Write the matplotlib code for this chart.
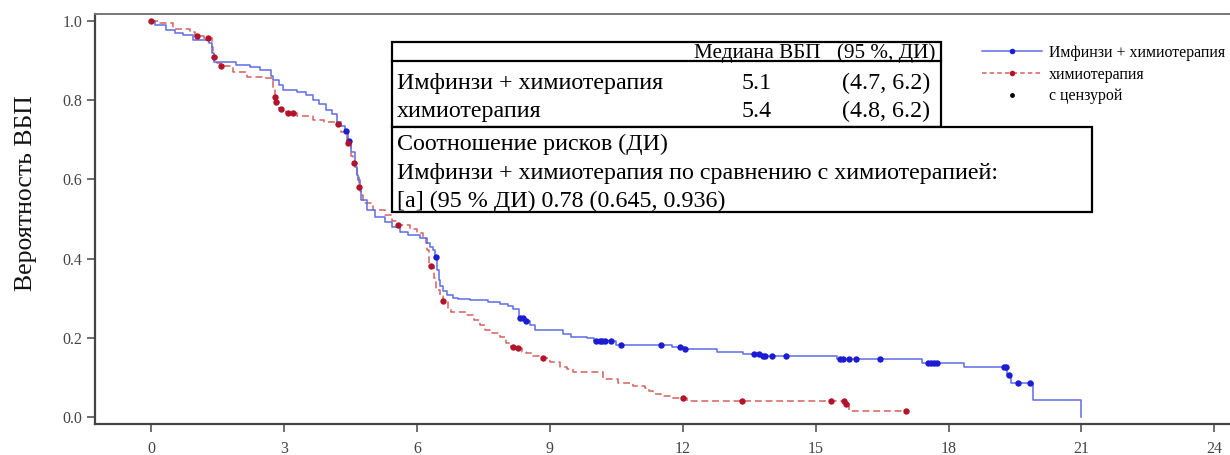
import matplotlib
matplotlib.use("Agg")
import matplotlib.pyplot as plt
from matplotlib.lines import Line2D
from matplotlib.patches import Rectangle
import numpy as np

plt.rcParams['font.family'] = ['Liberation Serif', 'DejaVu Serif']

# ---------------- data ----------------
blue_label = "Имфинзи + химиотерапия"
red_label = "химиотерапия"
cens_label = "с цензурой"

blue_t = [0, 0.1, 0.35, 0.55, 0.73, 0.95, 1.3, 1.37, 1.42, 1.93,
          2.23, 2.45, 2.7, 2.76, 2.9, 2.99, 3.29, 3.51, 3.66, 3.8,
          3.96, 4.08, 4.19, 4.3, 4.38, 4.44, 4.52, 4.6, 4.65, 4.68,
          4.72, 4.75, 4.87, 5.05, 5.28, 5.43, 5.62, 5.8, 6.07, 6.22,
          6.3, 6.37, 6.41, 6.46, 6.49, 6.52, 6.58, 6.67, 6.82, 6.93,
          7.2, 7.61, 7.87, 8.05, 8.17, 8.3, 8.45, 8.55, 8.66, 9.3,
          9.49, 9.83, 10.0, 10.5, 11.77, 12.03, 12.77, 13.36, 13.78, 15.49,
          17.4, 18.35, 19.33, 19.41, 19.9, 20.98]
blue_s = [1.0, 0.99, 0.977, 0.97, 0.965, 0.952, 0.945, 0.92, 0.897, 0.889,
          0.885, 0.876, 0.862, 0.851, 0.838, 0.826, 0.821, 0.813, 0.80, 0.79,
          0.775, 0.765, 0.746, 0.735, 0.723, 0.698, 0.67, 0.632, 0.61, 0.598,
          0.57, 0.548, 0.523, 0.506, 0.493, 0.48, 0.468, 0.46, 0.451, 0.439,
          0.43, 0.422, 0.405, 0.37, 0.345, 0.33, 0.318, 0.308, 0.30, 0.297,
          0.295, 0.291, 0.285, 0.28, 0.272, 0.251, 0.243, 0.232, 0.22, 0.21,
          0.203, 0.199, 0.192, 0.181, 0.176, 0.171, 0.164, 0.159, 0.154, 0.146,
          0.137, 0.125, 0.106, 0.087, 0.043, 0.0]
blue_cens = [4.41, 4.47, 6.43, 8.34, 8.40, 8.47, 10.05, 10.13, 10.19, 10.24,
             10.39, 10.61, 11.5, 11.95, 12.06, 13.6, 13.72, 13.81, 13.86, 14.01,
             14.33, 15.56, 15.61, 15.75, 15.91, 16.46, 17.53, 17.6, 17.67, 17.74,
             19.26, 19.3, 19.36, 19.57, 19.85]

red_t = [0, 0.2, 0.5, 0.88, 1.0, 1.2, 1.37, 1.40, 1.5, 1.57,
         1.86, 2.16, 2.5, 2.76, 2.79, 2.81, 2.9, 3.05, 3.3, 3.66,
         3.9, 4.2, 4.3, 4.42, 4.52, 4.57, 4.65, 4.69, 4.75, 4.79,
         5.01, 5.28, 5.45, 5.55, 5.84, 6.0, 6.14, 6.2, 6.22, 6.28,
         6.38, 6.44, 6.52, 6.58, 6.7, 6.78, 7.12, 7.3, 7.42, 7.55,
         7.65, 7.87, 8.02, 8.12, 8.25, 8.38, 8.47, 8.6, 8.75, 9.0,
         9.23, 9.4, 9.53, 10.2, 10.55, 10.87, 11.14, 11.25, 11.32, 11.5,
         11.73, 12.09, 15.67, 15.75]
red_s = [1.0, 0.994, 0.981, 0.973, 0.962, 0.956, 0.935, 0.91, 0.895, 0.887,
         0.872, 0.859, 0.855, 0.83, 0.809, 0.796, 0.778, 0.767, 0.76, 0.75,
         0.745, 0.739, 0.72, 0.691, 0.66, 0.642, 0.61, 0.58, 0.56, 0.54,
         0.523, 0.51, 0.495, 0.485, 0.476, 0.465, 0.455, 0.44, 0.422, 0.381,
         0.35, 0.32, 0.305, 0.293, 0.275, 0.266, 0.258, 0.245, 0.232, 0.22,
         0.211, 0.203, 0.186, 0.178, 0.173, 0.165, 0.161, 0.155, 0.15, 0.14,
         0.127, 0.12, 0.114, 0.095, 0.085, 0.078, 0.073, 0.065, 0.059, 0.053,
         0.048, 0.041, 0.032, 0.016]
red_cens = [0.0, 1.05, 1.29, 1.42, 1.59, 2.8, 2.83, 2.93, 3.1, 3.2,
            4.23, 4.45, 4.59, 4.7, 5.58, 6.31, 6.6, 8.17, 8.29, 8.84,
            12.0, 13.33, 15.34, 15.64, 15.69, 17.03]

x_ticks = [0, 3, 6, 9, 12, 15, 18, 21, 24]
y_ticks = [0.0, 0.2, 0.4, 0.6, 0.8, 1.0]
y_title = "Вероятность ВБП"

tbl_header = ["Медиана ВБП", "(95 %, ДИ)"]
tbl_rows = [blue_label, red_label]
tbl_median = ["5.1", "5.4"]
tbl_ci = ["(4.7, 6.2)", "(4.8, 6.2)"]
hr_lines = ["Соотношение рисков (ДИ)",
            "Имфинзи + химиотерапия по сравнению с химиотерапией:",
            "[a] (95 % ДИ) 0.78 (0.645, 0.936)"]

# ---------------- styles ----------------
BLUE_LINE = "#5d6ce4"
BLUE_DOT = "#1c1cd2"
RED_LINE = "#d2605e"
RED_DOT = "#b2142c"
W, H = 1230, 455


def step_value(t, times, surv):
    idx = np.searchsorted(np.asarray(times), t, side="right") - 1
    return np.asarray(surv)[idx]


fig = plt.figure(figsize=(W / 100, H / 100), dpi=100)
ax = fig.add_axes([95 / W, 1 - 424 / H, (1229 - 95) / W, (424 - 14) / H])

# curves
ax.step(blue_t, blue_s, where="post", color=BLUE_LINE, lw=1.1, zorder=3)
red_end = max(red_cens)
ax.step(red_t + [red_end], red_s + [red_s[-1]], where="post", color=RED_LINE,
        lw=1.1, ls=(0, (4.5, 2.5)), zorder=2)

ax.plot(blue_cens, [step_value(t, blue_t, blue_s) for t in blue_cens], "o",
        color=BLUE_DOT, ms=4.6, mec="none", zorder=4)
ax.plot(red_cens, [step_value(t, red_t, red_s) for t in red_cens], "o",
        color=RED_DOT, ms=4.6, mec="none", zorder=4)

ax.set_xlim(-1.263, 24.33)
ax.set_ylim(-0.0177, 1.0177)
ax.set_xticks(x_ticks)
ax.set_xticklabels([str(v) for v in x_ticks])
ax.set_yticks(y_ticks)
ax.set_yticklabels([f"{v:.1f}" for v in y_ticks])
ax.tick_params(axis="both", direction="out", length=6, width=1.2,
               colors="#555555", labelsize=11.5, labelcolor="#444444")
ax.tick_params(axis="x", pad=6.5)
ax.tick_params(axis="y", pad=3)
for s in ["left", "bottom"]:
    ax.spines[s].set_color("#444444")
    ax.spines[s].set_linewidth(1.6)
ax.spines["top"].set_color("#777777")
ax.spines["top"].set_linewidth(1.4)
ax.spines["right"].set_visible(False)
ax.set_ylabel(y_title, fontsize=18.5, color="#111111")
ax.yaxis.set_label_coords((37 - 95) / 1134, (424 - 193) / 410)

# legend
handles = [
    Line2D([0], [0], color=BLUE_LINE, lw=1.1, marker="o", ms=4, mfc=BLUE_DOT, mec="none"),
    Line2D([0], [0], color=RED_LINE, lw=1.1, ls=(0, (3, 2)), marker="o", ms=4, mfc=RED_DOT, mec="none"),
    Line2D([0], [0], color="none", lw=0, marker="o", ms=3.5, mfc="black", mec="none"),
]
leg = ax.legend(handles, [blue_label, red_label, cens_label], loc="upper left",
                bbox_to_anchor=(982 / W, 1 - 45 / H), bbox_transform=fig.transFigure,
                frameon=False, fontsize=11.4, handlelength=3.8, handletextpad=0.45,
                labelspacing=0.36, numpoints=1, borderaxespad=0, borderpad=0)

# table boxes
def fx(x):
    return x / W


def fy(y):
    return 1 - y / H


def rect(x0, y0, x1, y1):
    fig.add_artist(Rectangle((fx(x0), fy(y1)), fx(x1) - fx(x0), fy(y0) - fy(y1),
                             transform=fig.transFigure, fill=True, fc="white",
                             ec="black", lw=1.6, zorder=5))


rect(392, 42, 941, 127)
fig.add_artist(Line2D([fx(392), fx(941)], [fy(61), fy(61)], transform=fig.transFigure,
                      color="black", lw=1.6, zorder=6))
rect(392, 127, 1092, 212)

TS = 17.3
fig.text(fx(821), fy(58), tbl_header[0], ha="right", va="baseline", fontsize=15.2, zorder=7)
fig.text(fx(935), fy(58), tbl_header[1], ha="right", va="baseline", fontsize=15.2, zorder=7)
for i, (lab, med, ci) in enumerate(zip(tbl_rows, tbl_median, tbl_ci)):
    yb = 89 + 28 * i
    fig.text(fx(397), fy(yb), lab, ha="left", va="baseline", fontsize=TS, zorder=7)
    fig.text(fx(757), fy(yb), med, ha="center", va="baseline", fontsize=TS, zorder=7)
    fig.text(fx(930), fy(yb), ci, ha="right", va="baseline", fontsize=TS, zorder=7)
for i, line in enumerate(hr_lines):
    fig.text(fx(397), fy(150 + 28.5 * i), line, ha="left", va="baseline",
             fontsize=TS, zorder=7)

fig.savefig("out.png", dpi=100)
